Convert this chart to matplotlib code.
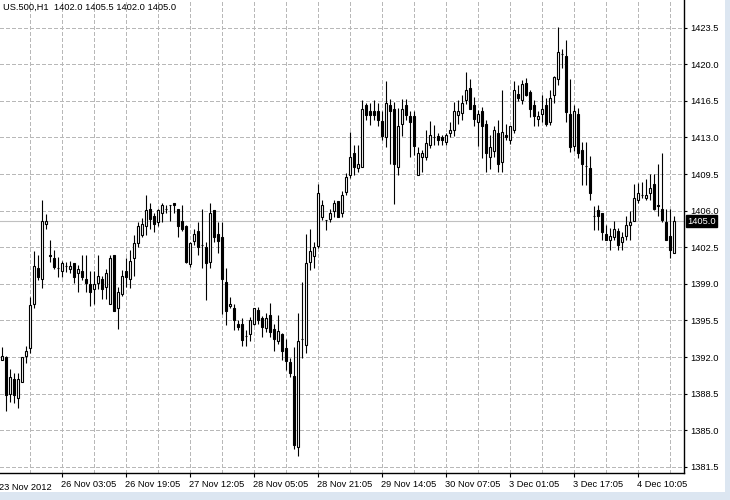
import matplotlib
matplotlib.use("Agg")
import matplotlib.pyplot as plt
from matplotlib.patches import Rectangle
import matplotlib.transforms as mtransforms

plt.rcParams['font.family'] = ['Liberation Sans', 'DejaVu Sans']

symbol_title = "US.500,H1  1402.0 1405.5 1402.0 1405.0"

opens = [1391.7, 1392.0, 1388.5, 1389.9, 1388.1, 1389.6, 1392.1, 1392.9, 1397.1, 1400.5,
         1399.5, 1404.7, 1401.8, 1401.5, 1400.5, 1400.2, 1400.7, 1400.45, 1401.0, 1400.0,
         1400.2, 1399.5, 1398.95, 1398.5, 1399.1, 1399.5, 1398.7, 1397.1, 1401.8, 1396.66,
         1398.0, 1400.2, 1399.5, 1401.5, 1402.9, 1403.7, 1404.5, 1406.2, 1405.5, 1404.95,
         1405.75, 1406.2, 1406.5, 1406.7, 1406.2, 1405.0, 1404.5, 1400.9, 1403.1, 1404.05,
         1402.7, 1402.5, 1401.1, 1406.05, 1403.8, 1403.5, 1399.2, 1396.9, 1396.7, 1395.2,
         1395.2, 1394.05, 1394.2, 1395.2, 1396.5, 1395.7, 1394.75, 1396.0, 1394.7, 1393.5,
         1394.2, 1392.9, 1391.55, 1390.2, 1383.45, 1393.7, 1393.15, 1401.1, 1401.7, 1402.6,
         1405.4, 1405.1, 1405.2, 1406.0, 1406.95, 1405.75, 1407.8, 1409.4, 1411.5, 1410.05,
         1410.2, 1416.1, 1415.5, 1415.55, 1415.55, 1414.6, 1413.0, 1416.1, 1415.7, 1410.2,
         1414.25, 1416.1, 1415.05, 1415.05, 1409.4, 1411.15, 1411.15, 1412.3, 1413.0, 1413.15,
         1413.0, 1412.6, 1413.45, 1413.7, 1415.15, 1415.3, 1416.6, 1417.7, 1416.1, 1414.5,
         1415.5, 1414.3, 1411.15, 1411.75, 1413.45, 1410.7, 1413.25, 1412.75, 1413.7, 1417.2,
         1416.6, 1418.25, 1417.3, 1416.1, 1414.75, 1415.2, 1416.1, 1414.5, 1417.05, 1418.55,
         1421.0, 1420.8, 1415.25, 1412.2, 1415.25, 1411.8, 1410.3, 1410.05, 1405.45, 1406.05,
         1405.75, 1403.75, 1403.2, 1403.5, 1404.1, 1403.0, 1403.6, 1404.65, 1405.0, 1407.0,
         1407.5, 1407.2, 1407.7, 1408.55, 1406.5, 1406.2, 1404.95, 1403.6, 1402.0]
highs = [1393.0, 1392.1, 1390.9, 1390.5, 1390.5, 1392.0, 1393.1, 1397.7, 1402.1, 1401.8,
         1407.0, 1405.7, 1403.2, 1402.2, 1401.6, 1401.2, 1401.1, 1401.2, 1401.0, 1400.8,
         1401.8, 1401.8, 1400.2, 1400.2, 1401.8, 1399.8, 1400.45, 1401.8, 1401.8, 1398.7,
         1400.3, 1401.5, 1402.2, 1403.7, 1404.9, 1405.3, 1407.5, 1406.7, 1405.8, 1406.2,
         1406.7, 1406.5, 1406.5, 1406.7, 1406.2, 1406.5, 1404.6, 1403.0, 1404.2, 1404.95,
         1406.2, 1403.0, 1406.7, 1406.05, 1404.95, 1404.95, 1400.5, 1397.7, 1397.1, 1395.55,
         1395.7, 1394.6, 1395.8, 1396.7, 1396.75, 1395.9, 1396.2, 1397.2, 1395.2, 1396.0,
         1394.3, 1393.7, 1391.95, 1393.0, 1396.25, 1399.2, 1403.75, 1404.2, 1403.0, 1408.55,
         1407.0, 1405.1, 1406.2, 1407.0, 1406.95, 1407.9, 1409.6, 1413.55, 1412.3, 1412.3,
         1416.6, 1416.3, 1416.3, 1416.6, 1416.3, 1415.5, 1418.35, 1416.7, 1416.4, 1415.8,
         1416.7, 1416.7, 1415.5, 1415.5, 1412.1, 1411.8, 1413.7, 1414.6, 1414.2, 1413.45,
         1413.2, 1413.4, 1414.5, 1416.4, 1416.6, 1417.05, 1419.3, 1418.55, 1416.9, 1415.6,
         1415.9, 1414.7, 1413.2, 1414.1, 1414.7, 1417.5, 1414.3, 1414.05, 1418.35, 1418.0,
         1418.5, 1418.65, 1417.55, 1416.6, 1415.5, 1417.05, 1416.75, 1417.5, 1418.9, 1423.6,
         1421.5, 1422.3, 1418.55, 1416.1, 1415.8, 1412.6, 1412.6, 1411.25, 1406.45, 1406.55,
         1405.8, 1404.6, 1404.3, 1405.05, 1404.3, 1404.0, 1405.45, 1406.0, 1408.55, 1408.6,
         1408.7, 1409.0, 1409.55, 1409.55, 1410.5, 1411.5, 1406.2, 1406.2, 1405.5]
lows = [1391.7, 1386.8, 1387.7, 1387.6, 1387.1, 1389.6, 1391.45, 1392.4, 1396.7, 1399.4,
        1398.6, 1404.2, 1401.1, 1400.4, 1399.7, 1399.7, 1400.1, 1400.0, 1399.1, 1398.2,
        1399.4, 1398.2, 1396.9, 1397.1, 1398.5, 1397.6, 1397.6, 1397.1, 1396.4, 1394.65,
        1397.8, 1398.7, 1398.6, 1399.75, 1402.5, 1403.5, 1403.7, 1404.2, 1404.0, 1404.5,
        1404.95, 1405.8, 1405.0, 1405.75, 1403.5, 1404.1, 1401.0, 1400.6, 1402.7, 1401.75,
        1400.5, 1397.5, 1400.5, 1403.0, 1402.0, 1396.1, 1395.1, 1396.7, 1394.6, 1394.6,
        1393.05, 1393.05, 1393.5, 1395.1, 1395.2, 1393.95, 1394.4, 1393.95, 1392.6, 1393.3,
        1391.7, 1390.8, 1390.1, 1383.2, 1382.55, 1391.9, 1392.4, 1400.3, 1400.5, 1402.4,
        1405.1, 1404.15, 1404.95, 1405.4, 1405.4, 1405.4, 1407.5, 1409.1, 1409.4, 1409.7,
        1410.2, 1414.7, 1414.2, 1414.7, 1414.05, 1412.8, 1412.05, 1410.5, 1406.65, 1409.4,
        1413.1, 1414.7, 1411.15, 1411.3, 1409.4, 1409.7, 1410.8, 1412.0, 1412.3, 1412.3,
        1412.3, 1412.3, 1413.05, 1413.15, 1414.3, 1414.7, 1416.2, 1415.7, 1414.05, 1412.2,
        1411.0, 1409.7, 1410.0, 1411.15, 1409.7, 1409.7, 1412.75, 1412.4, 1413.4, 1416.5,
        1416.2, 1417.0, 1415.0, 1414.05, 1414.05, 1414.5, 1414.05, 1414.2, 1416.3, 1418.0,
        1419.6, 1414.5, 1411.65, 1411.75, 1411.0, 1408.45, 1408.45, 1407.0, 1404.15, 1404.15,
        1403.2, 1403.2, 1402.25, 1403.2, 1402.25, 1402.25, 1403.2, 1403.2, 1405.0, 1406.7,
        1407.2, 1407.0, 1407.0, 1406.05, 1405.45, 1404.95, 1403.2, 1401.45, 1402.0]
closes = [1392.15, 1388.4, 1390.1, 1388.4, 1389.9, 1392.0, 1392.6, 1396.95, 1400.7, 1399.7,
          1405.0, 1405.0, 1401.7, 1400.6, 1400.5, 1401.0, 1400.7, 1400.7, 1399.7, 1400.45,
          1399.7, 1399.1, 1398.2, 1398.95, 1399.75, 1398.5, 1400.0, 1401.5, 1396.4, 1398.2,
          1399.75, 1399.7, 1401.2, 1402.9, 1404.5, 1404.7, 1406.05, 1405.2, 1404.7, 1406.05,
          1406.55, 1406.2, 1406.5, 1406.5, 1404.5, 1404.2, 1401.1, 1402.9, 1403.8, 1402.5,
          1402.7, 1400.95, 1405.75, 1403.5, 1403.1, 1399.5, 1396.4, 1397.1, 1395.5, 1394.9,
          1393.6, 1394.05, 1395.5, 1396.7, 1395.55, 1394.9, 1395.7, 1394.4, 1393.7, 1394.5,
          1392.6, 1391.65, 1390.45, 1383.6, 1393.5, 1393.7, 1400.95, 1402.1, 1402.5, 1407.7,
          1406.5, 1405.1, 1405.75, 1406.7, 1405.4, 1407.5, 1409.25, 1411.15, 1410.2, 1410.45,
          1415.7, 1415.15, 1415.15, 1415.15, 1414.7, 1413.15, 1416.25, 1415.5, 1410.5, 1414.1,
          1415.7, 1415.15, 1414.5, 1412.2, 1411.5, 1411.5, 1412.5, 1413.2, 1413.0, 1412.75,
          1412.75, 1413.2, 1413.7, 1415.5, 1415.5, 1416.25, 1417.5, 1415.7, 1414.75, 1415.2,
          1414.05, 1411.5, 1412.05, 1413.7, 1410.5, 1413.5, 1413.0, 1414.05, 1417.5, 1416.75,
          1418.1, 1417.05, 1415.7, 1415.05, 1415.05, 1415.7, 1414.3, 1416.75, 1418.75, 1421.2,
          1421.0, 1415.45, 1412.05, 1415.55, 1411.5, 1410.45, 1410.25, 1407.7, 1405.45, 1405.5,
          1404.0, 1403.2, 1403.6, 1404.2, 1402.7, 1403.5, 1404.65, 1404.95, 1407.2, 1407.7,
          1407.5, 1407.5, 1408.2, 1406.2, 1406.4, 1405.1, 1403.2, 1402.2, 1405.0]

price_ticks = [1381.5, 1385.0, 1388.5, 1392.0, 1395.5, 1399.0, 1402.5, 1406.0,
               1409.5, 1413.0, 1416.5, 1420.0, 1423.5]
time_label_bars = [15, 31, 47, 63, 79, 95, 111, 127, 143, 159]
time_labels = ["26 Nov 03:05", "26 Nov 19:05", "27 Nov 12:05", "28 Nov 05:05",
               "28 Nov 21:05", "29 Nov 14:05", "30 Nov 07:05", "3 Dec 01:05",
               "3 Dec 17:05", "4 Dec 10:05"]
first_label = "23 Nov 2012"
last_price = 1405.0

W, H = 730, 500
fig = plt.figure(figsize=(W / 100, H / 100), dpi=100)
fig.patch.set_facecolor("white")

# light frame strips
frame_col = "#dce6f1"
fig.patches.append(Rectangle((725 / W, 0), 5 / W, 1, transform=fig.transFigure,
                             facecolor=frame_col, edgecolor="none", zorder=0))
fig.patches.append(Rectangle((0, 0), 1, 8 / H, transform=fig.transFigure,
                             facecolor=frame_col, edgecolor="none", zorder=0))

ax_l, ax_r, ax_t, ax_b = 0, 684, 0, 473
ax = fig.add_axes([ax_l / W, 1 - ax_b / H, (ax_r - ax_l) / W, (ax_b - ax_t) / H])
ax.set_facecolor("white")

n = len(opens)
xs = list(range(n))

# grid
grid_col = "#b8b8b8"
dash = (0, (3.0, 2.6))
for p in price_ticks:
    ax.axhline(p, color=grid_col, lw=0.75, ls=dash, zorder=0, antialiased=False)
for k in range(7, 171, 8):
    ax.axvline(k, color=grid_col, lw=0.75, ls=dash, zorder=0, antialiased=False)

# current price line
ax.axhline(last_price, color="#c0c0c0", lw=0.8, zorder=1)

# candles
ax.vlines(xs, lows, highs, color="black", lw=0.8, zorder=2)
for i in range(n):
    o, c = opens[i], closes[i]
    bull = c >= o
    ax.bar(i, abs(c - o), bottom=min(o, c), width=0.52,
           color="white" if bull else "black", edgecolor="black",
           linewidth=0.8, zorder=3)

ax.set_xlim(-0.5, 170.5)
ax.set_ylim(1380.92, 1426.14)

for s in ["left", "top"]:
    ax.spines[s].set_visible(False)
for s in ["right", "bottom"]:
    ax.spines[s].set_color("black")
    ax.spines[s].set_linewidth(1.0)

ax.yaxis.tick_right()
ax.set_yticks(price_ticks)
ax.set_yticklabels([f"{p:.1f}" for p in price_ticks])
ax.tick_params(axis="y", direction="out", length=2.5, width=0.8, pad=2,
               labelsize=6.7, colors="black")

ax.set_xticks(time_label_bars)
ax.set_xticklabels(time_labels, ha="left")
ax.tick_params(axis="x", direction="out", length=3, width=0.8, pad=2,
               labelsize=6.7, colors="black")

# shift x labels slightly left so text starts at the tick
offset = mtransforms.ScaledTranslation(-1 / 100, 0, fig.dpi_scale_trans)
for lab in ax.get_xticklabels():
    lab.set_transform(lab.get_transform() + offset)

ax.text(-0.75, -0.0205, first_label, transform=ax.get_xaxis_transform(),
        ha="left", va="top", fontsize=6.7, color="black", clip_on=False)

# title
fig.text(3 / W, 1 - 7.5 / H, symbol_title, ha="left", va="center",
         fontsize=6.7, color="black")

# current price label
trans = mtransforms.blended_transform_factory(fig.transFigure, ax.transData)
ax.text(687 / W, last_price, f"{last_price:.1f}", transform=trans,
        ha="left", va="center", fontsize=6.7, color="white", zorder=10,
        bbox=dict(boxstyle="square,pad=0.15", facecolor="black", edgecolor="black"),
        clip_on=False)

fig.savefig("out.png", dpi=100)
